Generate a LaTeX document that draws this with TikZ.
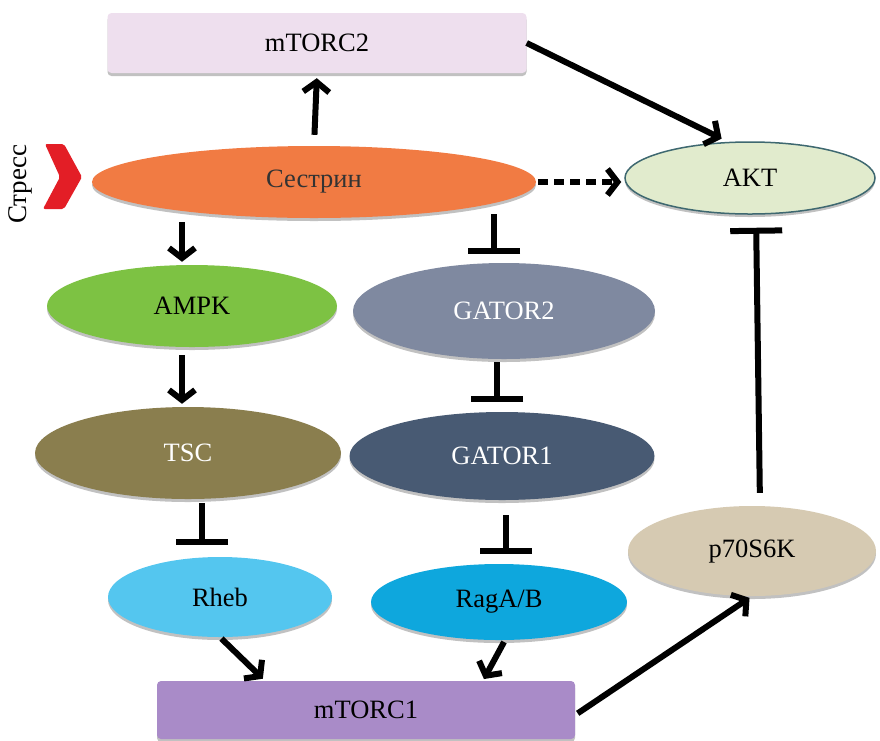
\documentclass[tikz,border=0pt]{standalone}
\usepackage{fontspec}
\setmainfont{Liberation Serif}
\usetikzlibrary{arrows.meta,shapes.geometric,shadows}
\definecolor{cmt2}{HTML}{EEDFEE}
\definecolor{cmt1}{HTML}{A98BC8}
\definecolor{cses}{HTML}{F17B43}
\definecolor{cakt}{HTML}{E1EBCD}
\definecolor{caktb}{HTML}{3E6870}
\definecolor{campk}{HTML}{7DC243}
\definecolor{ctsc}{HTML}{8A7E4E}
\definecolor{cg2}{HTML}{7F89A0}
\definecolor{cg1}{HTML}{485A73}
\definecolor{crheb}{HTML}{54C6EF}
\definecolor{crag}{HTML}{0EA7DD}
\definecolor{cp70}{HTML}{D6CAB2}
\definecolor{cred}{HTML}{E31E26}
\tikzset{
  sh/.style={drop shadow={shadow xshift=0pt,shadow yshift=-3pt,opacity=0.35,fill=black!70}},
  ell/.style={ellipse,inner sep=0pt,sh,font=\fontsize{26.5}{30}\selectfont},
  boxn/.style={rectangle,rounded corners=4pt,inner sep=0pt,sh,font=\fontsize{26.5}{30}\selectfont},
  arr/.style={line width=6pt,-{Straight Barb[length=10pt,width=26pt]}},
  inh/.style={line width=6pt,-{Bar[width=52pt]}},
}
\begin{document}
\begin{tikzpicture}[x=1pt,y=-1pt]
\useasboundingbox (0,0) rectangle (880,740);
% nodes
\node[boxn,fill=cmt2,minimum width=419pt,minimum height=60pt] (mtorc2) at (317,43) {mTORC2};
\node[boxn,fill=cmt1,minimum width=418pt,minimum height=58pt] (mtorc1) at (366,710) {mTORC1};
\node[ell,fill=cses,text=black!80,minimum width=444pt,minimum height=72pt] (ses) at (314,182) {Сестрин};
\node[ell,fill=cakt,draw=caktb,line width=1.5pt,minimum width=250pt,minimum height=72pt] (akt) at (750,178) {AKT};
\node[ell,fill=campk,minimum width=290pt,minimum height=82pt] (ampk) at (192,306) {AMPK};
\node[ell,fill=ctsc,text=white,minimum width=306pt,minimum height=92pt] (tsc) at (188,453) {TSC};
\node[ell,fill=crheb,minimum width=224pt,minimum height=80pt] (rheb) at (220,597) {Rheb};
\node[ell,fill=cg2,text=white,minimum width=302pt,minimum height=96pt] (g2) at (504,311) {GATOR2};
\node[ell,fill=cg1,text=white,minimum width=305pt,minimum height=88pt] (g1) at (502,456) {GATOR1};
\node[ell,fill=crag,minimum width=256pt,minimum height=76pt] (rag) at (499,602) {RagA/B};
\node[ell,fill=cp70,minimum width=248pt,minimum height=90pt] (p70) at (752,551) {p70S6K};
% stress label and chevron
\node[rotate=90,font=\fontsize{27}{30}\selectfont,inner sep=0pt] (stress) at (20,184) {Стресс};
\fill[cred,rounded corners=2pt] (45,144) -- (64,144) -- (82,177) -- (64,209) -- (43,209) -- (60,177) -- cycle;
% connectors
\draw[arr,shorten <=11pt,shorten >=5pt] (ses.north) -- (mtorc2.south);
\draw[arr,shorten >=6pt] (mtorc2.east) -- ([xshift=-23pt]akt.north);
\draw[line width=6pt,dash pattern=on 10pt off 6pt,-{Straight Barb[length=10pt,width=26pt]},shorten <=2pt,shorten >=3pt] (ses.east) -- (ses.east -| akt.west);
\draw[arr,shorten <=4pt,shorten >=3pt] ([xshift=-10pt]ampk.north |- ses.south) -- ([xshift=-10pt]ampk.north);
\draw[inh,shorten <=-4pt,shorten >=9pt] ([xshift=-10pt]g2.north |- ses.south) -- ([xshift=-10pt]g2.north);
\draw[arr,shorten <=8pt,shorten >=3pt] ([xshift=-10pt]ampk.south) -- ([xshift=-10pt]ampk.south |- tsc.north);
\draw[inh,shorten <=3pt,shorten >=10pt] ([xshift=-7pt]g2.south) -- ([xshift=-7pt]g2.south |- g1.north);
\draw[inh,shorten <=4pt,shorten >=12pt] ([xshift=14pt]tsc.south) -- ([xshift=14pt]tsc.south |- rheb.north);
\draw[inh,shorten <=15pt,shorten >=10pt] ([xshift=4pt]g1.south) -- ([xshift=4pt]g1.south |- rag.north);
\draw[arr,shorten <=2pt,shorten >=3pt] (rheb.south) -- ([xshift=-101pt]mtorc1.north);
\draw[arr,shorten <=2pt,shorten >=2pt] ([xshift=6pt]rag.south) -- ([xshift=117pt]mtorc1.north);
\draw[arr,shorten <=3pt,shorten >=3pt] ([yshift=-5pt]mtorc1.east) -- (p70.south);
\draw[inh,shorten <=13pt,shorten >=13pt] ([xshift=8pt]p70.north) -- ([xshift=6pt]akt.south);
\end{tikzpicture}
\end{document}
